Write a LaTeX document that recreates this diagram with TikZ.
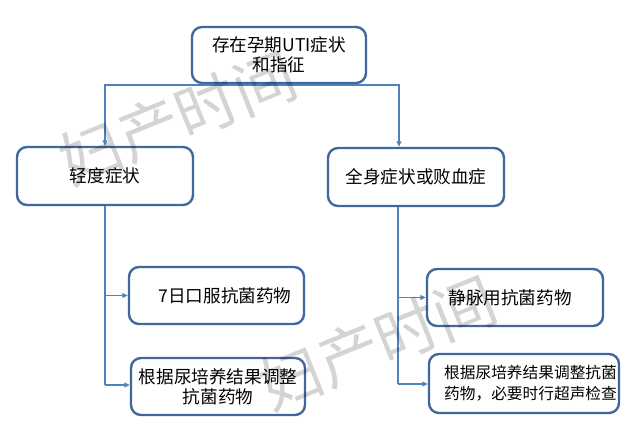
\documentclass[tikz,border=0pt]{standalone}
\usepackage{fontspec}
\setmainfont{Noto Sans CJK SC}
\usetikzlibrary{arrows.meta}
\definecolor{boxblue}{HTML}{41679E}
\definecolor{linkblue}{HTML}{4F81BD}
\tikzset{
  flowbox/.style={draw=boxblue, line width=2.4pt, rounded corners=10pt, fill=white,
    inner sep=0pt, align=center, font=\fontsize{17.6}{20}\selectfont},
  link/.style={draw=linkblue, line width=1.3pt},
  arrowlink/.style={link, -{Triangle[length=5.5pt,width=5pt]}},
  watermark/.style={text=black, opacity=0.17, rotate=22, font=\fontsize{62}{62}\selectfont}
}
\begin{document}
\begin{tikzpicture}[x=1pt, y=-1pt]
\useasboundingbox (0,0) rectangle (640,434);
\fill[white] (0,0) rectangle (640,434);

\node[flowbox, minimum width=174pt, minimum height=56pt] (top) at (279,55)
  {存在孕期UTI症状\\和指征};
\node[flowbox, minimum width=176pt, minimum height=58pt] (mild) at (105,176) {轻度症状};
\node[flowbox, minimum width=176pt, minimum height=58pt] (sys) at (416,177) {全身症状或败血症};
\node[flowbox, minimum width=175pt, minimum height=57pt] (oral) at (216.5,295.5)
  {\hspace*{17pt}7日口服抗菌药物};
\node[flowbox, minimum width=174pt, minimum height=57pt] (culL) at (218,386.5)
  {根据尿培养结果调整\\抗菌药物};
\node[flowbox, minimum width=176pt, minimum height=57pt] (iv) at (515,297.5)
  {静脉用抗菌药物\hspace*{10pt}};
\node[flowbox, minimum width=190pt, minimum height=59pt, align=left,
  font=\fontsize{15.7}{21}\selectfont] (culR) at (524,383.5)
  {\hspace*{13pt}根据尿培养结果调整抗菌\\\hspace*{13pt}药物，必要时行超声检查};

\coordinate (jl) at (105,85);
\coordinate (jr) at (399,85);
\coordinate (lend) at (105,385);
\coordinate (rend) at (398,384);

\draw[link] (top.south) -- (top.south |- jl);
\draw[arrowlink] (jr) -- (jl) -- (jl |- mild.north);
\draw[arrowlink] (jl -| top.south) -- (jr) -- (jr |- sys.north);

\draw[link] (mild.south) -- (lend);
\draw[arrowlink] (lend |- oral.west) -- (oral.west);
\draw[arrowlink] (lend) -- (lend -| culL.west);

\draw[link] (sys.south -| rend) -- (rend);
\draw[arrowlink] (rend |- iv.west) -- (iv.west);
\draw[arrowlink] (rend) -- (rend -| culR.west);

\node[watermark] (wm1) at (178,118) {妇产时间};
\node[watermark] (wm2) at (378,343) {妇产时间};
\end{tikzpicture}
\end{document}
